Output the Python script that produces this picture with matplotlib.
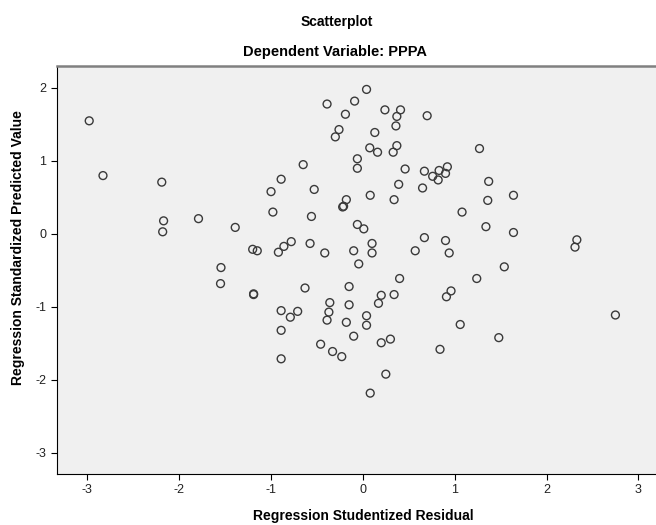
import matplotlib
matplotlib.use("Agg")
import matplotlib.pyplot as plt

plt.rcParams['font.family'] = ['Liberation Sans', 'DejaVu Sans']
plt.rcParams['axes.unicode_minus'] = False

# studentized residual (x) and standardized predicted value (y)
resid = [-2.98, -2.83, -2.19, -2.17, -2.18, -1.79, -1.39, -1.20, -1.15, -1.545,
         -1.55, -1.19, -1.19, 0.04, -0.39, -0.09, -0.19, 0.24, 0.41, 0.37,
         0.70, 0.36, -0.26, 0.13, -0.30, 0.075, 0.16, 0.37, 0.33, -0.06,
         -0.06, -0.65, 0.46, 0.67, 0.76, 0.83, 0.82, 0.90, 0.92, -0.89,
         -1.00, -0.53, 0.39, 0.65, 0.08, 0.34, -0.18, -0.22, -0.21, -0.98,
         -0.56, -0.06, 0.01, -0.78, -0.86, -0.92, -0.575, -0.415, -0.10, 0.10,
         0.10, 0.57, 0.67, 0.90, 0.94, 1.27, 1.37, 1.36, 1.64, 1.08,
         1.34, 1.64, 2.33, 2.31, 1.54, 1.24, 0.96, 0.91, 1.06, 1.48,
         0.84, 2.75, -0.045, -0.63, -0.15, 0.40, 0.34, 0.20, 0.17, -0.15,
         -0.36, -0.37, -0.39, -0.89, -0.79, -0.71, -0.89, -0.89, 0.04, 0.04,
         -0.18, -0.10, -0.46, -0.33, -0.23, 0.20, 0.30, 0.25, 0.08]
pred = [1.55, 0.80, 0.71, 0.18, 0.03, 0.21, 0.09, -0.21, -0.23, -0.46,
        -0.68, -0.82, -0.83, 1.98, 1.78, 1.82, 1.64, 1.70, 1.70, 1.61,
        1.62, 1.48, 1.43, 1.39, 1.33, 1.18, 1.12, 1.21, 1.12, 1.03,
        0.90, 0.95, 0.89, 0.86, 0.79, 0.87, 0.74, 0.83, 0.92, 0.75,
        0.58, 0.61, 0.68, 0.63, 0.53, 0.47, 0.47, 0.37, 0.38, 0.30,
        0.24, 0.13, 0.07, -0.105, -0.17, -0.25, -0.13, -0.26, -0.23, -0.13,
        -0.26, -0.23, -0.05, -0.09, -0.26, 1.17, 0.72, 0.46, 0.53, 0.30,
        0.10, 0.02, -0.08, -0.18, -0.45, -0.61, -0.78, -0.86, -1.24, -1.42,
        -1.58, -1.11, -0.41, -0.74, -0.72, -0.61, -0.83, -0.84, -0.95, -0.97,
        -0.94, -1.07, -1.18, -1.05, -1.14, -1.06, -1.32, -1.71, -1.12, -1.25,
        -1.21, -1.40, -1.51, -1.61, -1.68, -1.49, -1.44, -1.92, -2.18]
xticks = [-3, -2, -1, 0, 1, 2, 3]
yticks = [-3, -2, -1, 0, 1, 2]

fig = plt.figure(figsize=(6.56, 5.25), dpi=100)
fig.patch.set_facecolor('white')
ax = fig.add_axes([0.0863, 0.0971, 0.92, 0.7772])
ax.set_facecolor('#f0f0f0')

ax.scatter(resid, pred, s=32, facecolors='none', edgecolors='#3a3a3a', linewidths=1.0)

ax.set_xticks(xticks)
ax.set_yticks(yticks)
ax.set_xlim(-3.335, 3.237)
ax.set_ylim(-3.288, 2.301)
ax.tick_params(direction='out', length=4, width=0.8, color='black',
               labelsize=9, labelcolor='#222222')

ax.spines['right'].set_visible(False)
ax.spines['top'].set_color('#808080')
ax.spines['top'].set_linewidth(1.8)
ax.spines['left'].set_color('black')
ax.spines['bottom'].set_color('black')
ax.spines['left'].set_linewidth(0.8)
ax.spines['bottom'].set_linewidth(0.8)

fig.text(0.513, 1 - 22 / 525, 'Scatterplot', ha='center', va='center',
         fontsize=10, fontweight='bold')
fig.text(0.51, 1 - 52 / 525, 'Dependent Variable: PPPA', ha='center', va='center',
         fontsize=10.5, fontweight='bold')
fig.text(363 / 656, 1 - 516 / 525, 'Regression Studentized Residual',
         ha='center', va='center', fontsize=10, fontweight='bold')
fig.text(18 / 656, 1 - 248 / 525, 'Regression Standardized Predicted Value',
         rotation=90, ha='center', va='center', fontsize=10, fontweight='bold')

fig.savefig('out.png', dpi=100)
